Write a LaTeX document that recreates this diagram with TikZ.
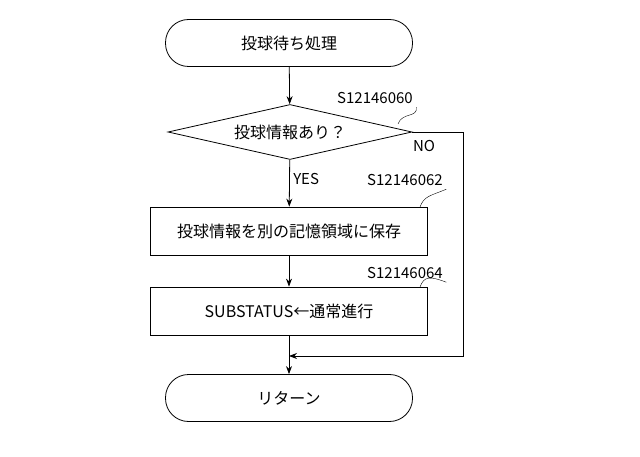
\documentclass[tikz,border=0pt]{standalone}
\usepackage{fontspec}
\setmainfont{Noto Sans CJK JP}
\usetikzlibrary{shapes.geometric,arrows.meta}
\begin{document}
\begin{tikzpicture}[
        x=1pt, y=-1pt,
        terminal/.style={rectangle, draw, thick, rounded corners=23pt, minimum width=247pt, minimum height=47pt, font=\fontsize{16}{19}\selectfont},
        decision/.style={diamond, draw, thick, aspect=4.4, minimum width=244pt, minimum height=55pt, inner sep=0pt, font=\fontsize{16}{19}\selectfont},
        process/.style={rectangle, draw, thick, minimum width=277pt, minimum height=48pt, font=\fontsize{16}{19}\selectfont},
        steplabel/.style={font=\fontsize{15}{17}\selectfont},
        flow/.style={thick, -{Stealth[length=8pt,width=6pt]}}
    ]
        \useasboundingbox (0,0) rectangle (640,457);

        \node[terminal] (start) at (289,43) {投球待ち処理};
        \node[decision] (check) at (290,132) {投球情報あり？};
        \node[process] (save) at (289,231) {投球情報を別の記憶領域に保存};
        \node[process] (substatus) at (289,311) {SUBSTATUS←通常進行};
        \node[terminal] (ret) at (289,398) {リターン};
        \coordinate (join) at (289,356);
        \coordinate (corner1) at (463,132);
        \coordinate (corner2) at (463,356);

        \draw[flow] (start) -- (check);
        \draw[flow] (check) -- (save) node[pos=0.4, right, steplabel] {YES};
        \draw[flow] (save) -- (substatus);
        \draw[thick] (substatus) -- (join);
        \draw[flow] (join) -- (ret);
        \draw[flow] (check.east) -- (corner1) -- (corner2) -- (join);
        \node[steplabel] (nolabel) at (424,146) {NO};

        % step labels
        \node[steplabel] (s0) at (375,98) {S12146060};
        \node[steplabel] (s2) at (405,180) {S12146062};
        \node[steplabel] (s4) at (405,273) {S12146064};
        \coordinate (c0) at (398,124);
        \coordinate (c2) at (420,207);
        \coordinate (c4) at (420,287);
        \draw (c0) .. controls (402,112) and (418,118) .. (s0.south east);
        \draw (c2) .. controls (424,196) and (430,196) .. (s2.south east);
        \draw (c4) .. controls (424,276) and (430,276) .. (s4.south east);
\end{tikzpicture}
\end{document}
